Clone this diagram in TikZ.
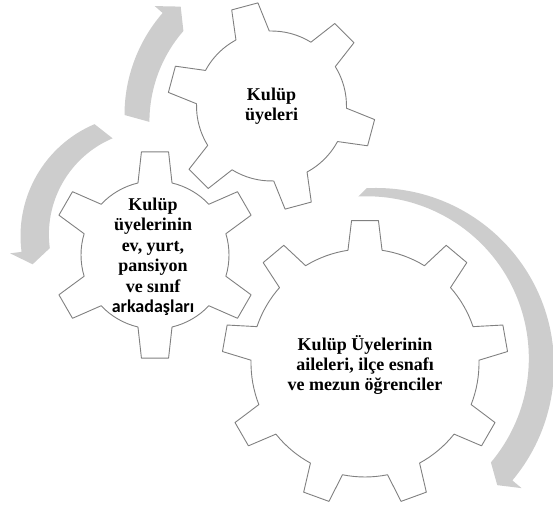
\documentclass[tikz,border=0pt]{standalone}
\usepackage{fontspec}
\setmainfont{Liberation Serif}
\newfontfamily\calibri{Carlito}
\definecolor{gearstroke}{RGB}{128,128,128}
\definecolor{arrowgray}{RGB}{205,205,205}
\tikzset{
  gearline/.style={draw=gearstroke,line width=0.9pt,fill=white,line join=round},
  arrowfill/.style={fill=arrowgray},
  gearlabel/.style={align=center,font=\bfseries\fontsize{18}{20.5}\selectfont}
}
% centre, teeth, body radius, tip radius, first tooth, root half angle, tip half angle
\newcommand{\gear}[7]{%
  \draw[gearline,shift={#1}] ({#5-#6}:#3)
    \foreach \k in {1,...,#2}{
      -- ({#5+(\k-1)*360/#2-#7}:#4) -- ({#5+(\k-1)*360/#2+#7}:#4)
      -- ({#5+(\k-1)*360/#2+#6}:#3)
      arc[start angle={#5+(\k-1)*360/#2+#6},end angle={#5+\k*360/#2-#6},radius=#3]
    } -- cycle;}
% centre, radius, half width, tail angle, head base angle, tip angle, head half width
\newcommand{\arcarrow}[7]{%
  \fill[arrowfill,shift={#1}] ({#4}:{#2+#3})
    arc[start angle=#4,end angle=#5,radius={#2+#3}]
    -- ({#5}:{#2+#7}) -- ({#6}:{#2}) -- ({#5}:{#2-#7})
    arc[start angle=#5,end angle=#4,radius={#2-#3}] -- cycle;}
\begin{document}
\begin{tikzpicture}[x=1pt,y=1pt]
  \useasboundingbox (0,0) rectangle (553,513);
  \coordinate (membergear) at (271.5,407);
  \coordinate (friendgear) at (155,258);
  \coordinate (familygear) at (365,150);
  \arcarrow{(280,398)}{147}{8.5}{180}{139}{132.5}{19}
  \arcarrow{(142,277)}{113}{8.5}{113}{187.5}{194.5}{20}
  \arcarrow{(376,147)}{170}{8}{93}{-40}{-44.5}{20}
  \gear{(membergear)}{6}{75}{104}{105}{13.3}{7.5}
  \gear{(friendgear)}{6}{74}{104}{90}{13.3}{7.5}
  \gear{(familygear)}{9}{114}{143}{90}{8.6}{5.4}
  \begin{scope}[every node/.style={gearlabel}]
    \node (membertext) at (membergear) {Kulüp\\üyeleri};
    \node (friendtext) at ([shift={(-2,-2)}]friendgear) {Kulüp\\üyelerinin\\ev, yurt,\\pansiyon\\ve sınıf\\{\calibri arkadaşları}};
    \node (familytext) at ([shift={(0,-2)}]familygear) {Kulüp Üyelerinin\\aileleri, ilçe esnafı\\ve mezun öğrenciler};
  \end{scope}
\end{tikzpicture}
\end{document}
